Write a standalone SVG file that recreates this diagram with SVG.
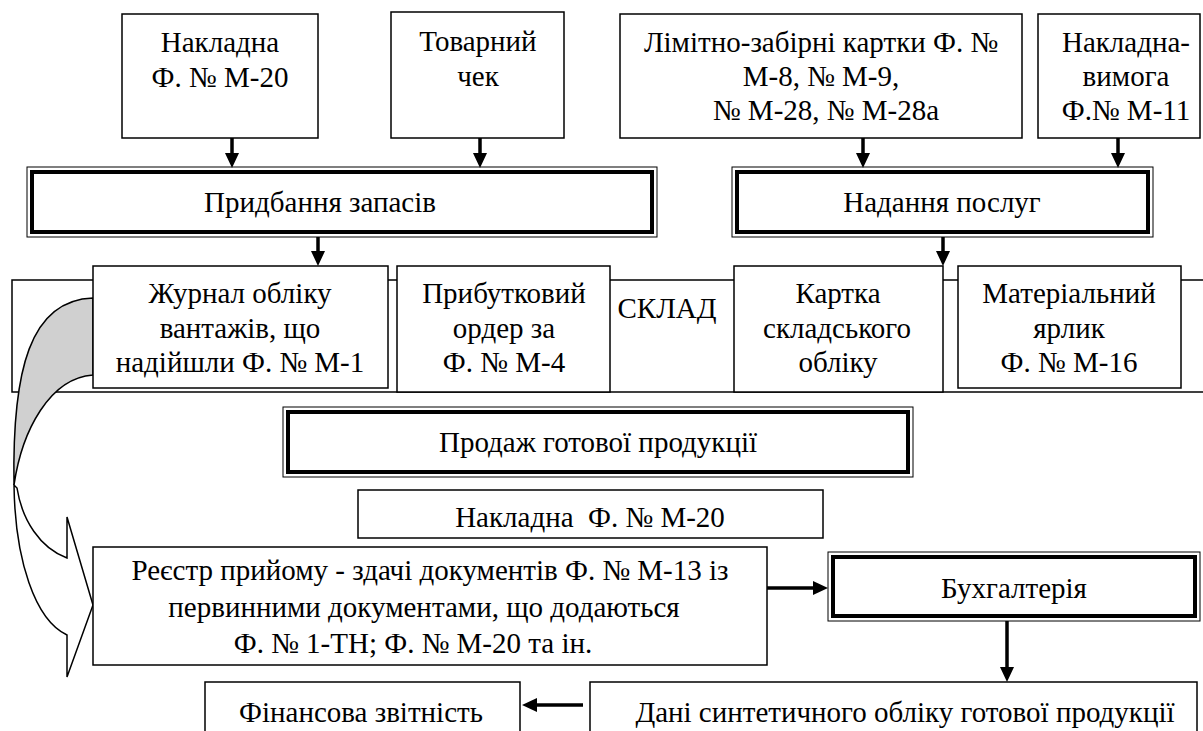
<svg xmlns="http://www.w3.org/2000/svg" width="1203" height="731" viewBox="0 0 1203 731">
<style>
text{font-family:"Liberation Serif","Times New Roman",serif;font-size:29px;text-anchor:middle;fill:#000}
.box{fill:#fff;stroke:#000;stroke-width:1.5}
.outer{fill:#fff;stroke:#000;stroke-width:1}
.inner{fill:none;stroke:#000;stroke-width:4}
.conn{stroke:#000;stroke-width:3.5;fill:none}
</style>
<defs>
<marker id="ah" markerUnits="userSpaceOnUse" markerWidth="15" markerHeight="14" refX="0" refY="7" orient="auto">
<path d="M0,0 L15,7 L0,14 Z" fill="#000"/>
</marker>
</defs>
<rect width="1203" height="731" fill="#fff"/>

<g id="n-nakladna"><rect class="box" x="122" y="14" width="196" height="124"/><text x="220" y="52">Накладна</text><text x="220" y="87">Ф. № М-20</text></g>
<g id="n-chek"><rect class="box" x="391" y="12" width="173" height="126"/><text x="478" y="51">Товарний</text><text x="478" y="86">чек</text></g>
<g id="n-limit"><rect class="box" x="620" y="14" width="402" height="124"/><text x="821" y="52">Лімітно-забірні картки Ф. №</text><text x="821" y="86">М-8, № М-9,</text><text x="826" y="120">№ М-28, № М-28а</text></g>
<g id="n-vymoga"><rect class="box" x="1038" y="14" width="162" height="124"/><text x="1126" y="52">Накладна-</text><text x="1126" y="86">вимога</text><text x="1126" y="120">Ф.№ М-11</text></g>

<g id="n-prydbannia"><rect class="outer" x="27" y="167" width="630" height="70"/><rect class="inner" x="32" y="172" width="620" height="60"/><text x="320" y="212">Придбання запасів</text></g>
<g id="n-nadannia"><rect class="outer" x="732" y="167" width="421" height="70"/><rect class="inner" x="737" y="172" width="411" height="60"/><text x="942" y="212">Надання послуг</text></g>

<g id="n-sklad"><rect class="box" x="12" y="280" width="1200" height="112"/><text x="667" y="318">СКЛАД</text></g>

<g id="curved-arrow">
<path d="M93,298 C30,300 12,370 14,485 C22,430 50,378 93,375 Z" fill="#d0d0d0" stroke="#000" stroke-width="1.5"/>
<path d="M14,485 C15,560 35,620 67,635 L67,677 L93,605 L67,517 L67,558 C40,548 22,520 17,488 Z" fill="#fff" stroke="#000" stroke-width="1.5"/>
</g>

<g id="n-zhurnal"><rect class="box" x="93" y="266" width="295" height="122"/><text x="240" y="303">Журнал обліку</text><text x="240" y="338">вантажів, що</text><text x="240" y="372">надійшли Ф. № М-1</text></g>
<g id="n-prybutkovyi"><rect class="box" x="397" y="266" width="213" height="126"/><text x="504" y="303">Прибутковий</text><text x="504" y="338">ордер за</text><text x="504" y="372">Ф. № М-4</text></g>
<g id="n-kartka"><rect class="box" x="734" y="266" width="209" height="126"/><text x="838" y="303">Картка</text><text x="837" y="338">складського</text><text x="838" y="372">обліку</text></g>
<g id="n-yarlyk"><rect class="box" x="958" y="266" width="223" height="122"/><text x="1069" y="303">Матеріальний</text><text x="1069" y="338">ярлик</text><text x="1069" y="372">Ф. № М-16</text></g>

<g id="n-prodazh"><rect class="outer" x="283" y="407" width="630" height="70"/><rect class="inner" x="288" y="412" width="620" height="60"/><text x="598" y="452">Продаж готової продукції</text></g>
<g id="n-nakladna2"><rect class="box" x="358" y="490" width="465" height="48"/><text x="590" y="527" xml:space="preserve">Накладна  Ф. № М-20</text></g>
<g id="n-reiestr"><rect class="box" x="93" y="547" width="674" height="118"/><text x="430" y="580">Реєстр прийому - здачі документів Ф. № М-13 із</text><text x="424" y="617">первинними документами, що додаються</text><text x="413" y="653">Ф. № 1-ТН; Ф. № М-20 та ін.</text></g>
<g id="n-bukh"><rect class="outer" x="828" y="552" width="372" height="69"/><rect class="inner" x="833" y="557" width="362" height="59"/><text x="1014" y="598">Бухгалтерія</text></g>
<g id="n-fin"><rect class="box" x="205" y="682" width="315" height="60"/><text x="361" y="722">Фінансова звітність</text></g>
<g id="n-dani"><rect class="box" x="590" y="682" width="607" height="60"/><text x="905" y="722">Дані синтетичного обліку готової продукції</text></g>

<g id="connectors">
<line class="conn" x1="232" y1="138" x2="232" y2="153" marker-end="url(#ah)"/>
<line class="conn" x1="480" y1="138" x2="480" y2="153" marker-end="url(#ah)"/>
<line class="conn" x1="863" y1="138" x2="863" y2="153" marker-end="url(#ah)"/>
<line class="conn" x1="1118" y1="138" x2="1118" y2="153" marker-end="url(#ah)"/>
<line class="conn" x1="318" y1="237" x2="318" y2="251" marker-end="url(#ah)"/>
<line class="conn" x1="943" y1="237" x2="943" y2="251" marker-end="url(#ah)"/>
<line class="conn" x1="767" y1="588" x2="813" y2="588" marker-end="url(#ah)"/>
<line class="conn" x1="1007" y1="621" x2="1007" y2="667" marker-end="url(#ah)"/>
<line class="conn" x1="583" y1="705" x2="537" y2="705" marker-end="url(#ah)"/>
</g>
</svg>
